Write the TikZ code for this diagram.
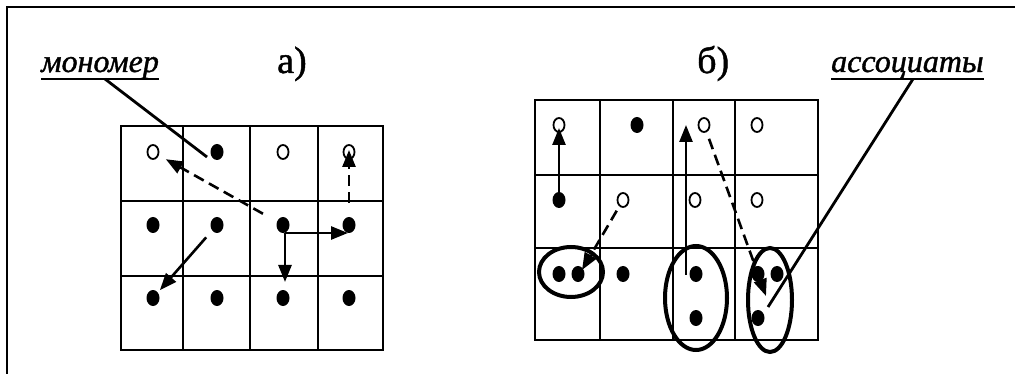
\documentclass[tikz,border=0pt]{standalone}
\usepackage{fontspec}
\setmainfont{Liberation Serif}
\newfontfamily\heavyserif[FakeBold=1.2]{Liberation Serif}
\usetikzlibrary{arrows.meta,shapes.geometric,calc}
\begin{document}
\begin{tikzpicture}[x=1pt,y=-1pt,
  gridline/.style={line width=2.6pt},
  fdot/.style={ellipse,fill=black,minimum width=13pt,minimum height=16pt,inner sep=0pt},
  odot/.style={ellipse,draw=black,line width=1.8pt,fill=white,minimum width=11pt,minimum height=14pt,inner sep=0pt},
  arr/.style={line width=2.6pt,-{Triangle[length=17pt,width=13pt]}},
  dsh/.style={arr,dash pattern=on 11pt off 6pt},
  group/.style={ellipse,draw=black,line width=4pt,inner sep=0pt},
  leader/.style={line width=2.8pt},
  lbl/.style={inner sep=0pt,anchor=base west,font=\heavyserif\fontsize{38}{40}\selectfont},
  ilbl/.style={inner sep=0pt,anchor=base west,font=\heavyserif\fontsize{32}{34}\selectfont\itshape},
]
\useasboundingbox (0,0) rectangle (1015,374);
% open frame: left and top edges only
\draw[line width=2.4pt] (7,374) -- (7,7) -- (1015,7);

% ---------- lattice a) ----------
\draw[gridline] (121,126) rectangle (383,350);
\foreach \x in {183,250,318} \draw[gridline] (\x,126) -- (\x,350);
\foreach \y in {201,276} \draw[gridline] (121,\y) -- (383,\y);

\node[odot] (a11) at (153,152) {};
\node[fdot] (a12) at (217,152) {};
\node[odot] (a13) at (283,152) {};
\node[odot] (a14) at (349,152) {};
\node[fdot] (a21) at (153,225) {};
\node[fdot] (a22) at (217,225) {};
\node[fdot] (a23) at (283,225) {};
\node[fdot] (a24) at (349,225) {};
\node[fdot] (a31) at (153,298) {};
\node[fdot] (a32) at (217,298) {};
\node[fdot] (a33) at (283,298) {};
\node[fdot] (a34) at (349,298) {};

\node[lbl] (la) at (277,73) {а)};
\node[ilbl] (mono) at (41,72) {мономер};
\draw[leader] ($(mono.base west)+(0,7)$) -- ($(mono.base east)+(0,7)$);
\coordinate (monoL) at (105,79);
\draw[leader] (monoL) -- ($(a12)+(-10,5)$);

\draw[dsh,shorten <=16pt,shorten >=8pt] (a23) -- (a11);
\draw[arr,shorten <=9pt,shorten >=3pt] (a22) -- (a31);
\coordinate (a23b) at (285,233);
\draw[line width=2.6pt] (a23) -- (a23b);
\draw[arr,shorten >=1pt] (a23b) -- (a23b -| a24);
\draw[arr] (a23b) -- ($(a23b |- a33)+(0,-16)$);
\draw[dsh,shorten <=14pt] (a24) -- ($(a14)+(0,-2)$);

% ---------- lattice b) ----------
\draw[gridline] (535,100) rectangle (818,340);
\foreach \x in {600,673,735} \draw[gridline] (\x,100) -- (\x,340);
\foreach \y in {175,248} \draw[gridline] (535,\y) -- (818,\y);

\node[odot] (b11) at (559,125) {};
\node[fdot] (b12) at (637,125) {};
\node[odot] (b13) at (704,125) {};
\node[odot] (b14) at (757,125) {};
\node[fdot] (b21) at (559,200) {};
\node[odot] (b22) at (623,200) {};
\node[odot] (b23) at (695,200) {};
\node[odot] (b24) at (757,200) {};
\node[fdot] (b31) at (559,274) {};
\node[fdot] (b32) at (578,274) {};
\node[fdot] (b33) at (623,274) {};
\node[fdot] (b34) at (696,274) {};
\node[fdot] (b35) at (696,318) {};
\node[fdot] (b36) at (758,274) {};
\node[fdot] (b37) at (777,274) {};
\node[fdot] (b38) at (758,318) {};

\node[group,minimum width=64pt,minimum height=50pt] (e1) at (571,272) {};
\node[group,minimum width=62pt,minimum height=104pt] (e2) at (696,298) {};
\node[group,minimum width=44pt,minimum height=104pt] (e3) at (770,300) {};

\node[lbl] (lb) at (697,73) {б)};
\node[ilbl] (asso) at (831,72) {ассоциаты};
\draw[leader] ($(asso.base west)+(0,7)$) -- ($(asso.base east)+(0,7)$);
\coordinate (assoL) at (913,79);
\draw[leader] (assoL) -- ($(b38)+(10,-11)$);

\draw[arr] (b21.center) -- ($(b11)+(0,3)$);
\draw[dsh,shorten <=5pt] (b22) -- ($(b32)+(4,-4)$);
\coordinate (b34l) at (686,275);
\draw[arr] (b34l) -- (b34l |- b11);
\draw[dsh,shorten <=7pt] (b13) -- ($(b36)+(8,22)$);
\end{tikzpicture}
\end{document}
